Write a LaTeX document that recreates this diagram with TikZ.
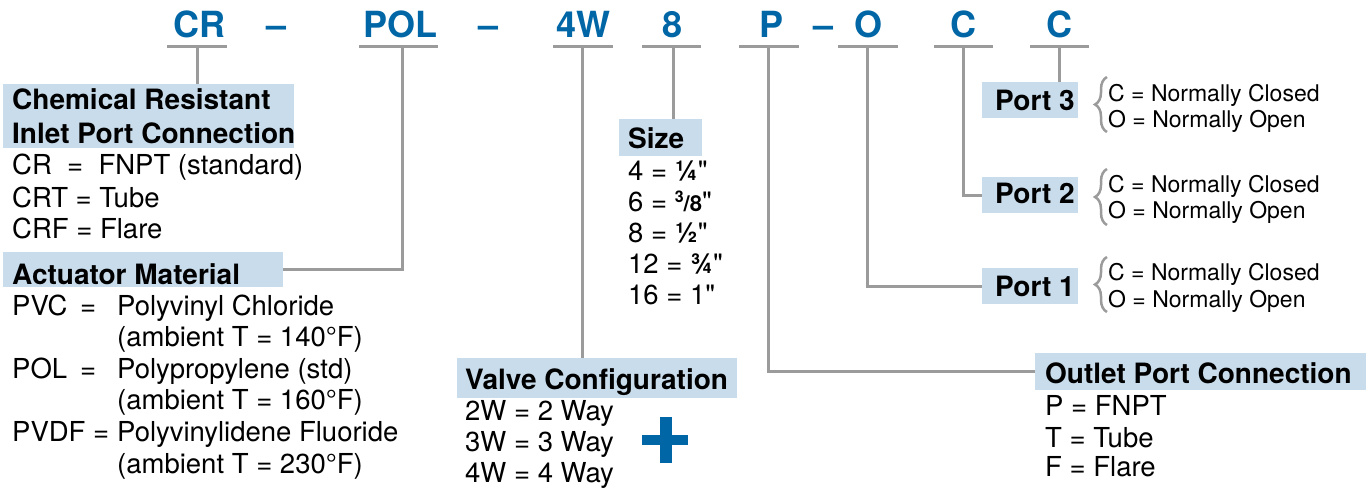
\documentclass[tikz,border=0pt]{standalone}
\usepackage{fontspec}
\setmainfont{TeX Gyre Heros}[Ligatures=TeXOff]
\usetikzlibrary{decorations.pathreplacing}
\definecolor{lblue}{RGB}{200,220,235}
\definecolor{dblue}{RGB}{0,102,166}
\definecolor{lgray}{RGB}{155,155,155}
\begin{document}
\begin{tikzpicture}[x=1pt,y=-1pt,
  topl/.style={font=\fontsize{36}{40}\selectfont\bfseries, text=dblue, inner sep=0, anchor=base},
  hdr/.style={fill=lblue, draw=none, inner sep=0, anchor=north west},
  ht/.style={font=\fontsize{28}{33}\selectfont\bfseries, inner sep=0, anchor=base west},
  tx/.style={font=\fontsize{27.5}{32}\selectfont, inner sep=0, anchor=base west},
  sm/.style={font=\fontsize{23}{27}\selectfont, inner sep=0, anchor=base west},
  gl/.style={draw=lgray, line width=3pt},
  brc/.style={draw=lgray, line width=2.5pt, decorate, decoration={brace, amplitude=12pt}},
  ulbar/.style={draw=lgray, line width=3pt}]
\useasboundingbox (0,0) rectangle (1366,489);
% top code letters
\node[topl] (tCR) at (199,38) {CR};
\node[topl] (tD1) at (276.5,38) {–};
\node[topl] (tPOL) at (400.5,38) {POL};
\node[topl] (tD2) at (489,38) {–};
\node[topl] (t4W) at (583.5,38) {4W};
\node[topl] (t8) at (672.5,38) {8};
\node[topl] (tP) at (771,38) {P};
\node[topl] (tD3) at (823,38) {–};
\node[topl] (tO) at (868,38) {O};
\node[topl] (tC2) at (963,38) {C};
\node[topl] (tC3) at (1059,38) {C};
% underlines
\draw[ulbar] (167,47) -- (227,47);
\draw[ulbar] (359,47) -- (438,47);
\draw[ulbar] (553,47) -- (613,47);
\draw[ulbar] (642,47) -- (701,47);
\draw[ulbar] (739,47) -- (799,47);
\draw[ulbar] (838,47) -- (898,47);
\draw[ulbar] (934,47) -- (993,47);
\draw[ulbar] (1030,47) -- (1089,47);
\coordinate (sCR) at (197,47);
\coordinate (sPOL) at (402,47);
\coordinate (s4W) at (582,47);
\coordinate (s8) at (673,47);
\coordinate (sP) at (768,47);
\coordinate (sO) at (867,47);
\coordinate (sC2) at (963,47);
\coordinate (sC3) at (1059,47);
% header boxes
\node[hdr, minimum width=291pt, minimum height=64pt] (b1) at (3,84) {};
\node[hdr, minimum width=280pt, minimum height=35pt] (b2) at (3,252) {};
\node[hdr, minimum width=83pt, minimum height=37pt] (bS) at (619,119) {};
\node[hdr, minimum width=280pt, minimum height=40pt] (bV) at (457,358) {};
\node[hdr, minimum width=331pt, minimum height=37pt] (bO) at (1035,353) {};
\node[hdr, minimum width=96pt, minimum height=36pt] (p3) at (982,82) {};
\node[hdr, minimum width=96pt, minimum height=36pt] (p2) at (982,177) {};
\node[hdr, minimum width=96pt, minimum height=36pt] (p1) at (982,268) {};
% connectors
\draw[gl] (sCR) -- (sCR |- b1.north);
\draw[gl] (sPOL) |- (b2.east);
\draw[gl] (s4W) -- (s4W |- bV.north);
\draw[gl] (s8) -- (s8 |- bS.north);
\draw[gl] (sP) |- (bO.west);
\draw[gl] (sO) |- (p1.west);
\draw[gl] (sC2) |- (p2.west);
\draw[gl] (sC3) -- (sC3 |- p3.north);
% inlet block
\node[ht] (h1a) at (12,110) {Chemical Resistant};
\node[ht] (h1b) at (12,143.5) {Inlet Port Connection};
\node[tx] (i1) at (12,175) {CR\ \ =\ \ FNPT (standard)};
\node[tx] (i2) at (12,208) {CRT = Tube};
\node[tx] (i3) at (12,239) {CRF = Flare};
% actuator block
\node[ht] (h2) at (12,284.5) {Actuator Material};
\node[tx] (a1c) at (12,315) {PVC};
\node[tx] (a1e) at (80,315) {=};
\node[tx] (a1d) at (117,315) {Polyvinyl Chloride};
\node[tx] (a2d) at (117,346.6) {(ambient T = 140°F)};
\node[tx] (a3c) at (12,378.2) {POL};
\node[tx] (a3e) at (80,378.2) {=};
\node[tx] (a3d) at (117,378.2) {Polypropylene (std)};
\node[tx] (a4d) at (117,409.8) {(ambient T = 160°F)};
\node[tx] (a5c) at (12,441.4) {PVDF =};
\node[tx] (a5d) at (117,441.4) {Polyvinylidene Fluoride};
\node[tx] (a6d) at (117,473) {(ambient T = 230°F)};
% size block
\node[ht] (hS) at (628,149) {Size};
\node[tx] (z1) at (628,181) {4 = {\bfseries ¼}"};
\node[tx] (z2) at (628,212) {6 = {\bfseries\raisebox{0.35em}{\fontsize{16}{16}\selectfont 3}{\fontsize{22}{22}\selectfont/8}}"};
\node[tx] (z3) at (628,243) {8 = {\bfseries ½}"};
\node[tx] (z4) at (628,274) {12 = {\bfseries ¾}"};
\node[tx] (z5) at (628,305) {16 = 1"};
% valve block
\node[ht] (hV) at (465,389) {Valve Configuration};
\node[tx] (v1) at (465,420) {2W = 2 Way};
\node[tx] (v2) at (465,451) {3W = 3 Way};
\node[tx] (v3) at (465,482) {4W = 4 Way};
\fill[dblue] (642,435) rectangle (688,445);
\fill[dblue] (660,417) rectangle (672,463);
% outlet block
\node[ht] (hO) at (1045,383) {Outlet Port Connection};
\node[tx] (o1) at (1045,415) {P = FNPT};
\node[tx] (o2) at (1045,447) {T = Tube};
\node[tx] (o3) at (1045,476) {F = Flare};
% ports
\node[ht] (hp3) at (995,111) {Port 3};
\node[ht] (hp2) at (995,204) {Port 2};
\node[ht] (hp1) at (995,296) {Port 1};
\draw[brc] (1107,132) -- (1107,77);
\draw[brc] (1107,225) -- (1107,169);
\draw[brc] (1107,312) -- (1107,257);
\node[sm] (q3a) at (1108,102) {C = Normally Closed};
\node[sm] (q3b) at (1108,128) {O = Normally Open};
\node[sm] (q2a) at (1108,193) {C = Normally Closed};
\node[sm] (q2b) at (1108,219) {O = Normally Open};
\node[sm] (q1a) at (1108,280) {C = Normally Closed};
\node[sm] (q1b) at (1108,307) {O = Normally Open};
\end{tikzpicture}
\end{document}
